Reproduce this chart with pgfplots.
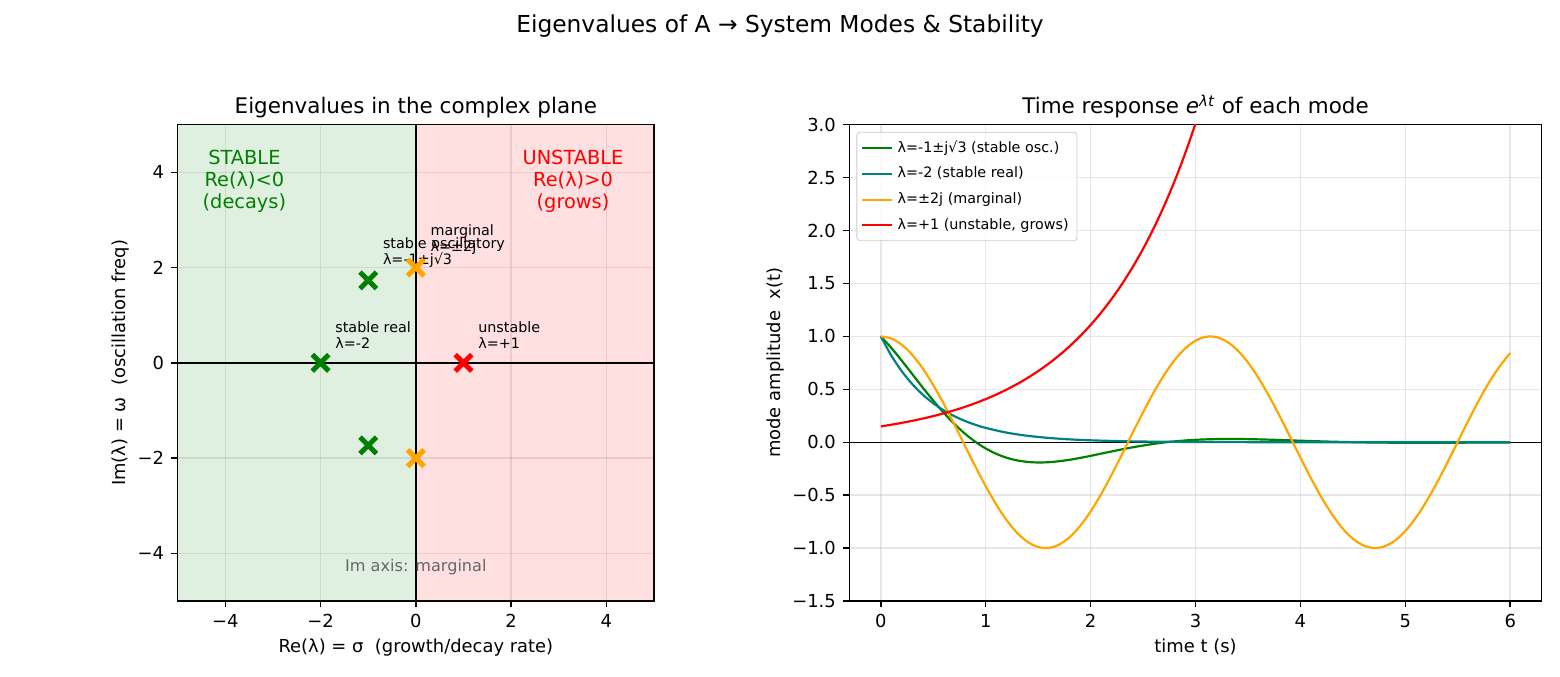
\documentclass[border=0pt]{standalone}
\usepackage{fontspec}
\setmainfont{DejaVu Sans}
\usepackage{pgfplots}
\pgfplotsset{compat=1.18}

\definecolor{mplgreen}{RGB}{0,128,0}
\definecolor{mplorange}{RGB}{255,165,0}
\definecolor{mplred}{RGB}{255,0,0}
\definecolor{mplteal}{RGB}{0,128,128}
\definecolor{gridgray}{RGB}{176,176,176}

\newcommand\fs[2]{\fontsize{#1}{#2}\selectfont}

\pgfplotsset{
  mplaxis/.style={
    scale only axis,
    axis line style={line width=0.69pt},
    tick align=outside,
    xtick pos=bottom, ytick pos=left,
    major tick length=3pt,
    tick style={line width=0.69pt, black},
    tick label style={font=\fs{8.6}{10}},
    label style={font=\fs{8.6}{10}},
    xlabel style={yshift=1.5pt},
    ylabel style={yshift=-3pt},
    title style={font=\fs{10.3}{12}, at={(0.5,1)}, anchor=base, yshift=-0.8pt},
    grid=major,
    major grid style={gridgray, opacity=0.3, line width=0.69pt},
    /pgf/number format/assume math mode=true,
  },
  mode/.style={line width=1.05pt},
}

\begin{document}
\begin{tikzpicture}
\useasboundingbox (0,0) rectangle (748.8pt,324.48pt);

\node[anchor=base, font=\fs{11.2}{13}] at (374.4pt,309.1pt)
  {Eigenvalues of A → System Modes \& Stability};

% ---------- eigenvalues in the complex plane ----------
\begin{axis}[mplaxis,
  at={(85.3pt,36pt)}, anchor=south west,
  width=228.6pt, height=228.6pt,
  xmin=-5, xmax=5, ymin=-5, ymax=5,
  xtick={-4,-2,0,2,4}, ytick={-4,-2,0,2,4},
  xticklabels={−4,−2,0,2,4}, yticklabels={−4,−2,0,2,4},
  title={Eigenvalues in the complex plane},
  xlabel={Re(λ) = σ \ (growth/decay rate)},
  ylabel={Im(λ) = ω \ (oscillation freq)},
]
\addplot[draw=none, fill=mplgreen, fill opacity=0.12] coordinates {(-5,-5) (0,-5) (0,5) (-5,5)} -- cycle;
\addplot[draw=none, fill=mplred, fill opacity=0.12] coordinates {(0,-5) (5,-5) (5,5) (0,5)} -- cycle;
\addplot[black, line width=1pt] coordinates {(-5,0) (5,0)};
\addplot[black, line width=1pt] coordinates {(0,-5) (0,5)};

\addplot[only marks, mark=x, mark size=5.6pt, line width=2.4pt, color=mplgreen]
  coordinates {(-1,1.732) (-1,-1.732) (-2,0)};
\addplot[only marks, mark=x, mark size=5.6pt, line width=2.4pt, color=mplorange]
  coordinates {(0,2) (0,-2)};
\addplot[only marks, mark=x, mark size=5.6pt, line width=2.4pt, color=mplred]
  coordinates {(1,0)};

\node[align=center, font=\fs{9.3}{10.6}, text=mplgreen] at (axis cs:-3.6,3.82)
  {STABLE\\Re(λ)<0\\(decays)};
\node[align=center, font=\fs{9.3}{10.6}, text=mplred] at (axis cs:3.3,3.82)
  {UNSTABLE\\Re(λ)>0\\(grows)};
\node[font=\fs{7.74}{9}, text=black!60] at (axis cs:0,-4.29) {Im axis: marginal};

\begin{scope}[every node/.style={anchor=south west, inner sep=0pt, align=left,
    font=\fs{6.88}{7.6}, xshift=6.9pt, yshift=6pt}]
\node at (axis cs:-1,1.732) {stable oscillatory\\λ=-1±j√3\vphantom{(}};
\node at (axis cs:0,2) {marginal\\λ=±2j\vphantom{(}};
\node at (axis cs:-2,0) {stable real\\λ=-2\vphantom{(}};
\node at (axis cs:1,0) {unstable\\λ=+1\vphantom{(}};
\end{scope}
\end{axis}

% ---------- time response of each mode ----------
\begin{axis}[mplaxis,
  at={(407.7pt,36pt)}, anchor=south west,
  width=332.3pt, height=228.6pt,
  xmin=-0.3, xmax=6.3, ymin=-1.5, ymax=3,
  xtick={0,1,2,3,4,5,6},
  ytick={-1.5,-1,-0.5,0,0.5,1,1.5,2,2.5,3},
  yticklabels={−1.5,−1.0,−0.5,0.0,0.5,1.0,1.5,2.0,2.5,3.0},
  title={Time response {\itshape e}\textsuperscript{\itshape λt} of each mode},
  xlabel={time t (s)},
  ylabel={mode amplitude \ x(t)},
  legend style={at={(0,1)}, anchor=north west, xshift=3.4pt, yshift=-3.4pt,
    draw=black!20, rounded corners=1.5pt, fill=white, fill opacity=0.8, text opacity=1,
    font=\fs{6.88}{8}, inner xsep=2pt, inner ysep=2pt, row sep=1.6pt},
  legend cell align=left,
  legend image code/.code={\draw[#1] (0pt,0pt) -- (14.5pt,0pt);},
]
\addplot[black, line width=0.7pt, forget plot] coordinates {(-0.3,0) (6.3,0)};

\addplot[mplgreen, mode, smooth] coordinates {
 (0,1) (0.1,0.8913) (0.2,0.7701) (0.3,0.6430) (0.4,0.5158) (0.5,0.3930)
 (0.6,0.2781) (0.7,0.1739) (0.8,0.0827) (0.9,0.0049) (1.0,-0.0590)
 (1.1,-0.1092) (1.2,-0.1465) (1.3,-0.1716) (1.4,-0.1859) (1.5,-0.1910)
 (1.6,-0.1884) (1.7,-0.1792) (1.8,-0.1653) (1.9,-0.1479) (2.0,-0.1284)
 (2.2,-0.0869) (2.4,-0.0479) (2.6,-0.0154) (2.8,0.0083) (3.0,0.0231)
 (3.2,0.0301) (3.4,0.0308) (3.6,0.0273) (3.8,0.0214) (4.0,0.0146)
 (4.3,0.0054) (4.6,-0.0011) (5.0,-0.0049) (5.5,-0.0041) (6.0,-0.0014)};
\addlegendentry{λ=-1±j√3 (stable osc.)}

\addplot[mplteal, mode, smooth] coordinates {
 (0,1) (0.1,0.8187) (0.2,0.6703) (0.3,0.5488) (0.4,0.4493) (0.5,0.3679)
 (0.6,0.3012) (0.7,0.2466) (0.8,0.2019) (0.9,0.1653) (1.0,0.1353)
 (1.2,0.0907) (1.4,0.0608) (1.6,0.0408) (1.8,0.0273) (2.0,0.0183)
 (2.3,0.0101) (2.6,0.0055) (3.0,0.0025) (3.5,0.0009) (4.0,0.0003)
 (5.0,0.0000) (6.0,0.0000)};
\addlegendentry{λ=-2 (stable real)}

\addplot[mplorange, mode, smooth] coordinates {
 (0,1) (0.1,0.9801) (0.2,0.9211) (0.3,0.8253) (0.4,0.6967) (0.5,0.5403)
 (0.6,0.3624) (0.7,0.1700) (0.8,-0.0292) (0.9,-0.2272) (1.0,-0.4161)
 (1.1,-0.5885) (1.2,-0.7374) (1.3,-0.8569) (1.4,-0.9422) (1.5,-0.9900)
 (1.6,-0.9983) (1.7,-0.9668) (1.8,-0.8968) (1.9,-0.7910) (2.0,-0.6536)
 (2.1,-0.4903) (2.2,-0.3073) (2.3,-0.1122) (2.4,0.0875) (2.5,0.2837)
 (2.6,0.4685) (2.7,0.6347) (2.8,0.7756) (2.9,0.8855) (3.0,0.9602)
 (3.1,0.9965) (3.2,0.9932) (3.3,0.9502) (3.4,0.8694) (3.5,0.7539)
 (3.6,0.6084) (3.7,0.4385) (3.8,0.2513) (3.9,0.0540) (4.0,-0.1455)
 (4.1,-0.3392) (4.2,-0.5193) (4.3,-0.6787) (4.4,-0.8111) (4.5,-0.9111)
 (4.6,-0.9748) (4.7,-0.9997) (4.8,-0.9847) (4.9,-0.9304) (5.0,-0.8391)
 (5.1,-0.7143) (5.2,-0.5610) (5.3,-0.3854) (5.4,-0.1946) (5.5,0.0044)
 (5.6,0.2034) (5.7,0.3939) (5.8,0.5678) (5.9,0.7178) (6.0,0.8439)};
\addlegendentry{λ=±2j (marginal)}

\addplot[mplred, mode, smooth] coordinates {
 (0,0.1500) (0.1,0.1658) (0.2,0.1832) (0.3,0.2025) (0.4,0.2238) (0.5,0.2473)
 (0.6,0.2733) (0.7,0.3021) (0.8,0.3338) (0.9,0.3689) (1.0,0.4077)
 (1.1,0.4506) (1.2,0.4980) (1.3,0.5504) (1.4,0.6083) (1.5,0.6723)
 (1.6,0.7430) (1.7,0.8211) (1.8,0.9075) (1.9,1.0029) (2.0,1.1084)
 (2.1,1.2249) (2.2,1.3538) (2.3,1.4961) (2.4,1.6535) (2.5,1.8274)
 (2.6,2.0196) (2.7,2.2320) (2.8,2.4667) (2.9,2.7262) (3.0,3.0129)
 (3.1,3.3298)};
\addlegendentry{λ=+1 (unstable, grows)}
\end{axis}
\end{tikzpicture}
\end{document}
